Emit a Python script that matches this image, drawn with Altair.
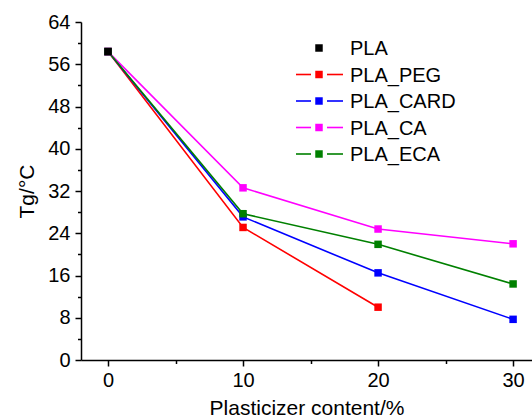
import altair as alt
import pandas as pd

# ---- data ----
series = ["PLA", "PLA_PEG", "PLA_CARD", "PLA_CA", "PLA_ECA"]
colors = ["#000000", "#ff0000", "#0000ff", "#ff00ff", "#008000"]
content = [0, 10, 20, 30]
pla = [58.4]
peg = [58.4, 25.1, 10.0]
card = [58.4, 27.1, 16.5, 7.7]
ca = [58.4, 32.6, 24.8, 22.0]
eca = [58.4, 27.7, 21.9, 14.4]
y_ticks = list(range(0, 65, 4))
x_ticks = [0, 5, 10, 15, 20, 25, 30]

FONT = "Liberation Sans"

rows = []
for name, vals in zip(series, [pla, peg, card, ca, eca]):
    for i, v in enumerate(vals):
        rows.append({"series": name, "content": content[i], "tg": v,
                     "top": 1 if name == "PLA" else 0})
df = pd.DataFrame(rows)
leg_idx = list(range(len(series)))
leg_df = pd.DataFrame({"series": series, "idx": leg_idx, "has_line": [0, 1, 1, 1, 1]})

x_scale = alt.Scale(domain=[-2, 31.4], nice=False, zero=False)
y_scale = alt.Scale(domain=[0, 64], nice=False)

x_enc = alt.X("content:Q", scale=x_scale,
              axis=alt.Axis(values=x_ticks, title="Plasticizer content/%",
                            labelExpr="datum.value % 10 === 0 ? datum.label : ''",
                            tickSize={"condition": {"test": "datum.value % 10 === 0", "value": 6}, "value": 3.5},
                            labelPadding=4, titlePadding=7))
y_axis_enc = alt.Y("tg:Q", scale=y_scale,
                   axis=alt.Axis(values=y_ticks, title="Tg/°C",
                                 labelExpr="datum.value % 8 === 0 ? datum.label : ''",
                                 tickSize={"condition": {"test": "datum.value % 8 === 0", "value": 6}, "value": 3.5},
                                 labelPadding=5, titleAngle=270, titleAlign="center",
                                 titleBaseline="alphabetic", titleX=-48, titleY=169))
y_plain = alt.Y("tg:Q", scale=y_scale, axis=None)
col = alt.Color("series:N", scale=alt.Scale(domain=series, range=colors), legend=None)

base = alt.Chart(df)

lines = base.transform_filter("datum.series != 'PLA'").mark_line(strokeWidth=1.6).encode(
    x=x_enc, y=y_axis_enc, color=col, detail="series:N")

points = base.mark_point(shape="square", filled=True, opacity=1, size=56).encode(
    x=x_enc, y=y_plain, color=col, order=alt.Order("top:Q"))

# ---- manual legend: rows placed by a point scale of their own ----
ly = alt.Y("idx:O", scale=alt.Scale(type="point", domain=leg_idx, range=[26, 132], padding=0),
           axis=None)
lbase = alt.Chart(leg_df)
leg_l = lbase.transform_filter("datum.has_line == 1").mark_rule(strokeWidth=1.6).encode(
    y=ly, x=alt.value(215), x2=alt.value(230), color=col)
leg_r = lbase.transform_filter("datum.has_line == 1").mark_rule(strokeWidth=1.6).encode(
    y=ly, x=alt.value(246), x2=alt.value(262), color=col)
leg_p = lbase.mark_point(shape="square", filled=True, opacity=1, size=56).encode(
    y=ly, x=alt.value(238), color=col)
leg_t = lbase.mark_text(font=FONT, fontSize=20, align="left", baseline="middle", dy=1).encode(
    y=ly, x=alt.value(269), text="series:N")

chart = alt.layer(lines, points, leg_l, leg_r, leg_p, leg_t).resolve_scale(
    y="independent"
).properties(
    width=451, height=338,
    autosize=alt.AutoSizeParams(type="none"),
    padding={"left": 81, "top": 22, "right": 0, "bottom": 58},
).configure_view(stroke=None).configure_axis(
    grid=False, domainColor="black", domainWidth=1.5, tickColor="black", tickWidth=1.5,
    labelFont=FONT, labelFontSize=20, labelColor="black",
    titleFont=FONT, titleFontSize=21, titleColor="black", titleFontWeight="normal",
)

chart.save("out.html", embed_options={"renderer": "svg", "actions": False})
